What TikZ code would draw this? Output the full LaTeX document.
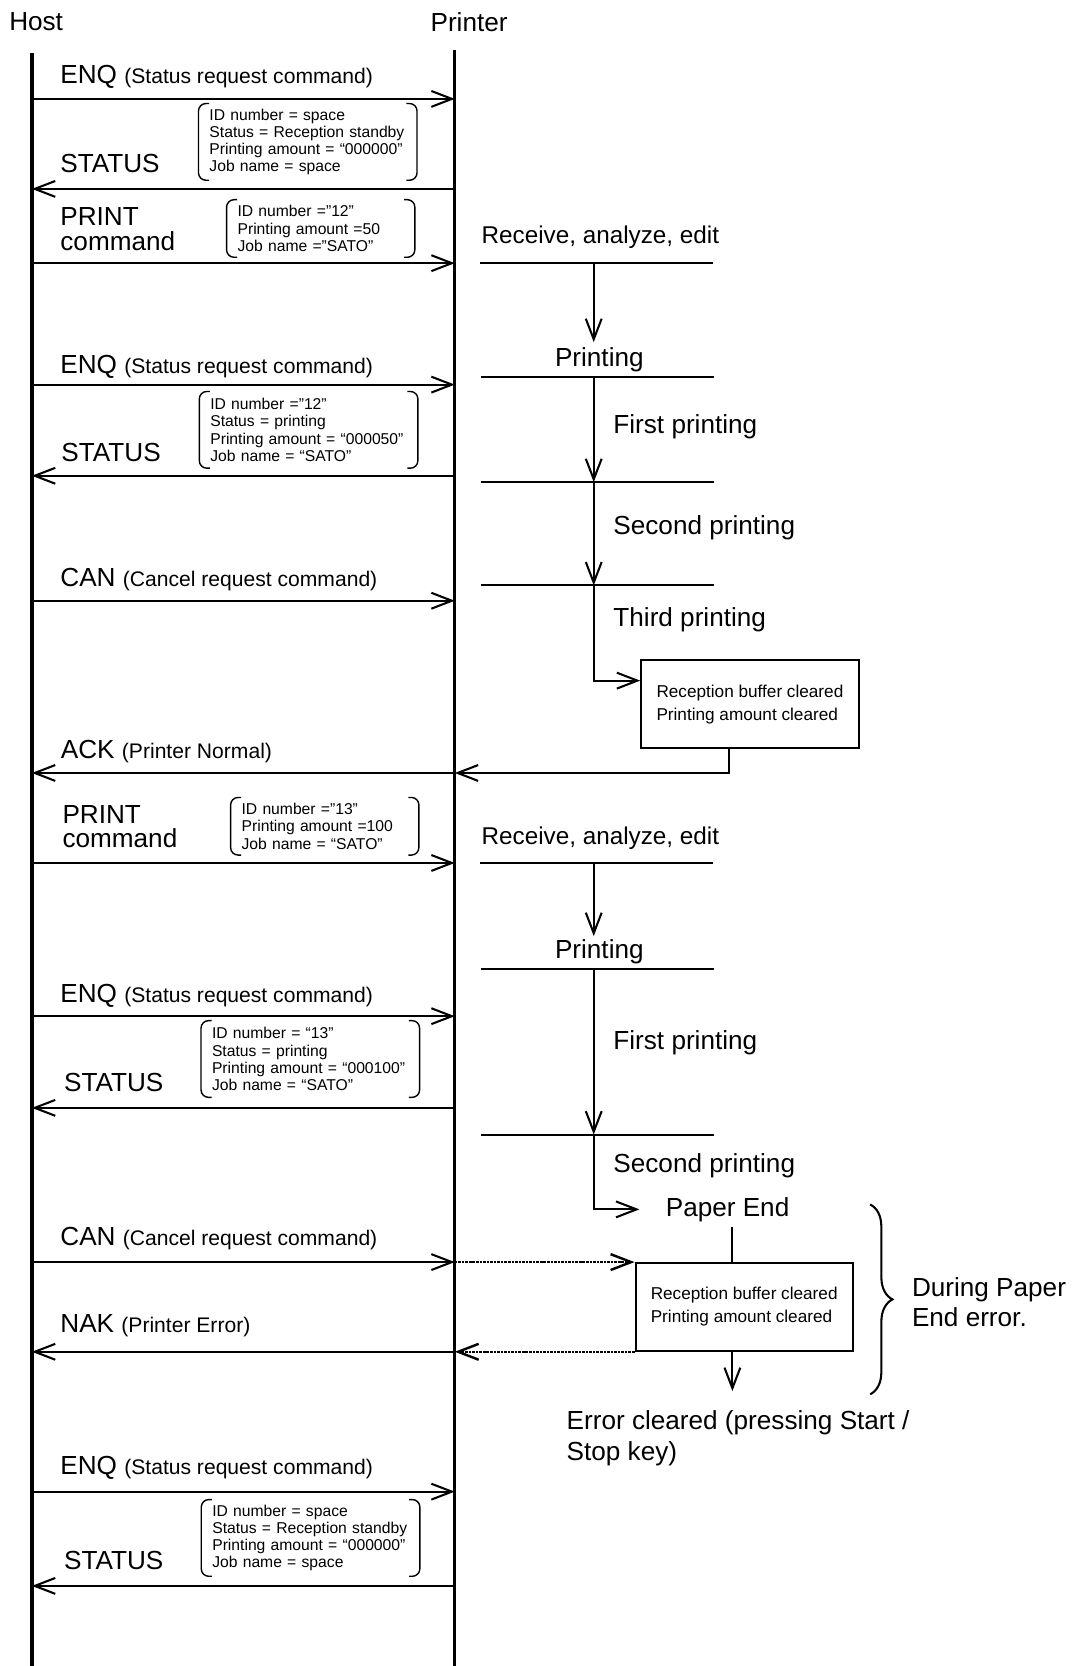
\documentclass[tikz,border=0pt]{standalone}
\usepackage{fontspec}
\setmainfont{Liberation Sans}
\usetikzlibrary{arrows.meta,decorations.pathreplacing}
\begin{document}
\begin{tikzpicture}[font=\fontsize{14}{13.2}\selectfont,
  lifeline/.style={line width=1.8pt},
  msg/.style={line width=1.1pt,-{Straight Barb[length=11pt,width=8.5pt]}},
  dots/.style={msg,line width=1.3pt,dash pattern=on 1.4pt off .5pt},
  stage/.style={line width=1.1pt},
  lbl/.style={anchor=base west,inner sep=0},
  fields/.style={font=\fontsize{8.4}{9.2}\selectfont,align=left,inner xsep=.2cm,inner ysep=0,text width=3.7cm,minimum height=1.43cm},
  fields3/.style={text width=3.13cm,minimum height=1.07cm},
  paren/.style={line width=.75pt,rounded corners=4pt},
  clearbox/.style={draw,line width=1.1pt,font=\fontsize{9.2}{12.2}\selectfont,align=left,minimum width=4.09cm,minimum height=1.65cm},
  bracebar/.style={line width=1.1pt,decorate,decoration={brace,amplitude=.42cm}}]
\useasboundingbox (0,0) rectangle (20.32,-31.36);
\node (host) at (0.68,-0.41) {Host};
\node (printer) at (8.83,-0.41) {Printer};
\coordinate (hostTop) at (0.6,-1.0);
\coordinate (hostEnd) at (0.6,-31.4);
\coordinate (prnTop) at (8.56,-0.94);
\coordinate (prnEnd) at (8.56,-31.4);
\draw[lifeline] (hostTop) -- (hostEnd);
\draw[lifeline] (prnTop) -- (prnEnd);
\coordinate (m1) at (0,-1.862);
\node[lbl] (enq1) at (1.13,-1.568) {ENQ {\fontsize{11.3}{13}\selectfont (Status request command)}};
\draw[msg] (hostTop |- m1) -- (prnTop |- m1);
\coordinate (m2) at (0,-3.556);
\node[lbl] (status1) at (1.13,-3.248) {STATUS};
\node[fields] (f1) at (5.793,-2.671) {ID number = space\\Status = Reception standby\\Printing amount = “000000”\\Job name = space};
\draw[paren] ([xshift=.2cm]f1.north west) -| (f1.south west) -- ++(.2,0);
\draw[paren] ([xshift=-.2cm]f1.north east) -| (f1.south east) -- ++(-.2,0);
\draw[msg] (prnTop |- m2) -- (hostTop |- m2);
\coordinate (m3) at (0,-4.954);
\node[lbl,align=left] (print1) at (1.13,-4.716) {PRINT\\command};
\node[fields,fields3] (f2) at (6.037,-4.301) {ID number ="12"\\Printing amount =50\\Job name ="SATO"};
\draw[paren] ([xshift=.2cm]f2.north west) -| (f2.south west) -- ++(.2,0);
\draw[paren] ([xshift=-.2cm]f2.north east) -| (f2.south east) -- ++(-.2,0);
\draw[msg] (hostTop |- m3) -- (prnTop |- m3);
\coordinate (m4) at (0,-7.24);
\node[lbl] (enq2) at (1.13,-7.024) {ENQ {\fontsize{11.3}{13}\selectfont (Status request command)}};
\draw[msg] (hostTop |- m4) -- (prnTop |- m4);
\coordinate (m5) at (0,-8.956);
\node[lbl] (status2) at (1.15,-8.686) {STATUS};
\node[fields] (f3) at (5.809,-8.091) {ID number =”12”\\Status = printing\\Printing amount = “000050”\\Job name = “SATO”};
\draw[paren] ([xshift=.2cm]f3.north west) -| (f3.south west) -- ++(.2,0);
\draw[paren] ([xshift=-.2cm]f3.north east) -| (f3.south east) -- ++(-.2,0);
\draw[msg] (prnTop |- m5) -- (hostTop |- m5);
\coordinate (m6) at (0,-11.308);
\node[lbl] (can1) at (1.13,-11.038) {CAN {\fontsize{11.3}{13}\selectfont (Cancel request command)}};
\draw[msg] (hostTop |- m6) -- (prnTop |- m6);
\coordinate (s1) at (11.176,-4.954);
\coordinate (s1e) at (11.176,-6.44);
\coordinate (s2) at (11.176,-7.1);
\coordinate (s3) at (11.176,-9.076);
\coordinate (s4) at (11.176,-11.02);
\coordinate (s4e) at (11.176,-12.812);
\node[lbl,font=\fontsize{13}{15}\selectfont] (rec1) at (9.06,-4.58) {Receive, analyze, edit};
\draw[stage] (s1) ++(-2.14,0) -- ++(4.38,0);
\draw[msg] (s1) -- (s1e);
\node[lbl] (prt1) at (10.44,-6.9) {Printing};
\draw[stage] (s2) ++(-2.12,0) -- ++(4.38,0);
\node[lbl] (first1) at (11.54,-8.152) {First printing};
\draw[msg] (s2) -- (s3);
\draw[stage] (s3) ++(-2.12,0) -- ++(4.38,0);
\node[lbl] (second1) at (11.54,-10.06) {Second printing};
\draw[msg] (s3) -- (s4);
\draw[stage] (s4) ++(-2.12,0) -- ++(4.38,0);
\node[lbl] (third1) at (11.54,-11.8) {Third printing};
\node[clearbox] (clearbox) at (14.116,-13.255) {Reception buffer cleared\\Printing amount cleared};
\draw[msg] (s4) |- (clearbox.west |- s4e);
\coordinate (ack) at (13.72,-14.55);
\node[lbl] (ackl) at (1.14,-14.28) {ACK {\fontsize{11.3}{13}\selectfont (Printer Normal)}};
\draw[msg] (clearbox.south -| ack) |- (prnTop |- ack);
\draw[msg] (prnTop |- ack) -- (hostTop |- ack);
\coordinate (m8) at (0,-16.244);
\node[lbl,align=left] (print2) at (1.17,-15.96) {PRINT\\command};
\node[fields,fields3] (f4) at (6.113,-15.553) {ID number =”13”\\Printing amount =100\\Job name = “SATO”};
\draw[paren] ([xshift=.2cm]f4.north west) -| (f4.south west) -- ++(.2,0);
\draw[paren] ([xshift=-.2cm]f4.north east) -| (f4.south east) -- ++(-.2,0);
\draw[msg] (hostTop |- m8) -- (prnTop |- m8);
\coordinate (m9) at (0,-19.128);
\node[lbl] (enq3) at (1.13,-18.878) {ENQ {\fontsize{11.3}{13}\selectfont (Status request command)}};
\draw[msg] (hostTop |- m9) -- (prnTop |- m9);
\coordinate (m10) at (0,-20.854);
\node[lbl] (status3) at (1.2,-20.54) {STATUS};
\node[fields] (f5) at (5.841,-19.934) {ID number = “13”\\Status = printing\\Printing amount = “000100”\\Job name = “SATO”};
\draw[paren] ([xshift=.2cm]f5.north west) -| (f5.south west) -- ++(.2,0);
\draw[paren] ([xshift=-.2cm]f5.north east) -| (f5.south east) -- ++(-.2,0);
\draw[msg] (prnTop |- m10) -- (hostTop |- m10);
\coordinate (s5) at (11.176,-16.244);
\coordinate (s5e) at (11.176,-17.62);
\coordinate (s6) at (11.176,-18.232);
\coordinate (s7) at (11.176,-21.356);
\node[lbl,font=\fontsize{13}{15}\selectfont] (rec2) at (9.06,-15.9) {Receive, analyze, edit};
\draw[stage] (s5) ++(-2.14,0) -- ++(4.38,0);
\draw[msg] (s5) -- (s5e);
\node[lbl] (prt2) at (10.44,-18.05) {Printing};
\draw[stage] (s6) ++(-2.12,0) -- ++(4.38,0);
\node[lbl] (first2) at (11.54,-19.756) {First printing};
\draw[msg] (s6) -- (s7);
\draw[stage] (s7) ++(-2.12,0) -- ++(4.38,0);
\node[lbl] (second2) at (11.54,-22.076) {Second printing};
\node[lbl] (paperend) at (12.526,-22.892) {Paper End};
\draw[msg] (s7) |- ([xshift=-.49cm]paperend.west);
\coordinate (pe) at (13.786,-23.092);
\node[clearbox] (errbox) at (14.008,-24.601) {Reception buffer cleared\\Printing amount cleared};
\draw[stage] (pe) -- (pe |- errbox.north);
\node[lbl] (can2) at (1.13,-23.44) {CAN {\fontsize{11.3}{13}\selectfont (Cancel request command)}};
\draw[msg] (hostTop |- errbox.north) -- (prnTop |- errbox.north);
\draw[dots] (prnTop |- errbox.north) -- (errbox.north west);
\node[lbl] (nak) at (1.13,-25.08) {NAK {\fontsize{11.3}{13}\selectfont (Printer Error)}};
\draw[dots] (errbox.south west) -- (prnTop |- errbox.south);
\draw[msg] (prnTop |- errbox.south) -- (hostTop |- errbox.south);
\coordinate (errout) at (13.786,-26.184);
\draw[msg] (pe |- errbox.south) -- (errout);
\node[lbl,align=left,font=\fontsize{14}{16.9}\selectfont] (errcleared) at (10.66,-27.5) {Error cleared (pressing Start /\\Stop key)};
\coordinate (braceTop) at (16.38,-22.672);
\coordinate (braceBot) at (16.38,-26.246);
\draw[bracebar] (braceTop) -- (braceBot);
\node[lbl,align=left,font=\fontsize{14}{16}\selectfont] (during) at (17.16,-24.96) {During Paper\\End error.};
\coordinate (m13) at (0,-28.078);
\node[lbl] (enq4) at (1.13,-27.752) {ENQ {\fontsize{11.3}{13}\selectfont (Status request command)}};
\draw[msg] (hostTop |- m13) -- (prnTop |- m13);
\coordinate (m14) at (0,-29.852);
\node[lbl] (status4) at (1.2,-29.552) {STATUS};
\node[fields] (f6) at (5.846,-28.949) {ID number = space\\Status = Reception standby\\Printing amount = “000000”\\Job name = space};
\draw[paren] ([xshift=.2cm]f6.north west) -| (f6.south west) -- ++(.2,0);
\draw[paren] ([xshift=-.2cm]f6.north east) -| (f6.south east) -- ++(-.2,0);
\draw[msg] (prnTop |- m14) -- (hostTop |- m14);
\end{tikzpicture}
\end{document}
